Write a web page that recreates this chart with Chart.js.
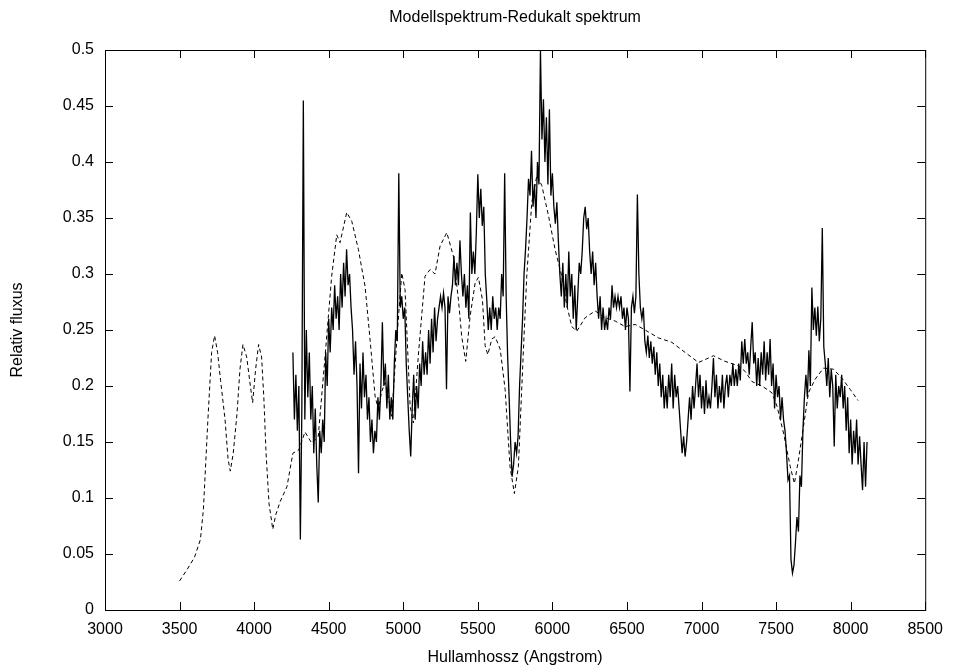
<!DOCTYPE html>
<html>
<head>
<meta charset="utf-8">
<title>Modellspektrum-Redukalt spektrum</title>
<script src="https://cdn.jsdelivr.net/npm/chart.js@4.4.1/dist/chart.umd.min.js"></script>
<style>
  html, body { margin: 0; padding: 0; background: #fff; }
</style>
</head>
<body>
<canvas id="myChart" width="953" height="667"></canvas>
<script>
// reduced (observed) spectrum, sampled every 10 A from 4260 A
const specStart = 4260;
const specStep = 10;
const specFlux = [
  0.23, 0.17, 0.21, 0.16, 0.20, 0.063, 0.18, 0.455, 0.17, 0.25,
  0.19, 0.23, 0.17, 0.20, 0.14, 0.18, 0.13, 0.096, 0.16, 0.14,
  0.17, 0.15, 0.23, 0.20, 0.26, 0.23, 0.27, 0.25, 0.29, 0.26,
  0.28, 0.25, 0.30, 0.27, 0.31, 0.28, 0.322, 0.29, 0.30, 0.27,
  0.25, 0.21, 0.24, 0.20, 0.122, 0.22, 0.18, 0.23, 0.19, 0.21,
  0.17, 0.19, 0.15, 0.17, 0.14, 0.16, 0.15, 0.19, 0.17, 0.20,
  0.257, 0.20, 0.22, 0.18, 0.21, 0.17, 0.19, 0.17, 0.22, 0.25,
  0.24, 0.39, 0.27, 0.28, 0.26, 0.27, 0.22, 0.19, 0.16, 0.137,
  0.18, 0.21, 0.17, 0.20, 0.18, 0.22, 0.20, 0.24, 0.21, 0.23,
  0.21, 0.25, 0.22, 0.26, 0.23, 0.27, 0.24, 0.26, 0.27, 0.28,
  0.27, 0.283, 0.27, 0.197, 0.28, 0.265, 0.28, 0.29, 0.316, 0.29,
  0.31, 0.29, 0.33, 0.30, 0.28, 0.30, 0.27, 0.29, 0.26, 0.355,
  0.30, 0.32, 0.30, 0.337, 0.389, 0.35, 0.376, 0.343, 0.36, 0.30,
  0.277, 0.25, 0.27, 0.25, 0.28, 0.26, 0.27, 0.25, 0.27, 0.26,
  0.30, 0.28, 0.39, 0.28, 0.226, 0.19, 0.15, 0.119, 0.13, 0.15,
  0.14, 0.155, 0.20, 0.23, 0.26, 0.30, 0.322, 0.35, 0.385, 0.37,
  0.41, 0.36, 0.38, 0.35, 0.40, 0.38, 0.50, 0.42, 0.456, 0.40,
  0.44, 0.38, 0.447, 0.37, 0.39, 0.36, 0.345, 0.364, 0.33, 0.30,
  0.28, 0.31, 0.27, 0.30, 0.27, 0.32, 0.28, 0.30, 0.26, 0.29,
  0.25, 0.28, 0.31, 0.30, 0.32, 0.35, 0.36, 0.34, 0.35, 0.32,
  0.30, 0.32, 0.29, 0.31, 0.28, 0.26, 0.28, 0.25, 0.27, 0.25,
  0.26, 0.25, 0.27, 0.26, 0.29, 0.27, 0.28, 0.27, 0.28, 0.27,
  0.28, 0.26, 0.27, 0.25, 0.27, 0.26, 0.195, 0.27, 0.28, 0.265,
  0.28, 0.371, 0.30, 0.27, 0.26, 0.27, 0.24, 0.23, 0.245, 0.225,
  0.24, 0.22, 0.235, 0.21, 0.23, 0.20, 0.22, 0.19, 0.21, 0.18,
  0.20, 0.18, 0.21, 0.19, 0.22, 0.18, 0.21, 0.19, 0.20, 0.18,
  0.16, 0.14, 0.155, 0.137, 0.15, 0.17, 0.19, 0.17, 0.20, 0.18,
  0.20, 0.22, 0.19, 0.21, 0.18, 0.20, 0.175, 0.205, 0.18, 0.19,
  0.18, 0.20, 0.225, 0.19, 0.21, 0.18, 0.20, 0.185, 0.21, 0.18,
  0.20, 0.21, 0.19, 0.21, 0.20, 0.22, 0.20, 0.215, 0.20, 0.22,
  0.205, 0.24, 0.22, 0.242, 0.22, 0.23, 0.21, 0.235, 0.257, 0.22,
  0.23, 0.20, 0.225, 0.20, 0.23, 0.21, 0.24, 0.205, 0.23, 0.21,
  0.242, 0.20, 0.22, 0.18, 0.21, 0.19, 0.20, 0.17, 0.19, 0.17,
  0.16, 0.14, 0.116, 0.12, 0.045, 0.033, 0.04, 0.06, 0.083, 0.07,
  0.12, 0.11, 0.16, 0.19, 0.21, 0.19, 0.232, 0.20, 0.288, 0.25,
  0.27, 0.245, 0.271, 0.24, 0.26, 0.341, 0.235, 0.22, 0.20, 0.225,
  0.19, 0.215, 0.20, 0.146, 0.21, 0.18, 0.20, 0.19, 0.21, 0.18,
  0.20, 0.16, 0.19, 0.14, 0.17, 0.13, 0.16, 0.14, 0.17, 0.13,
  0.155, 0.13, 0.107, 0.15, 0.11, 0.15
];

// model spectrum (dashed)
const modelWave = [
  3500, 3550, 3600, 3640, 3660, 3690, 3715, 3735, 3755, 3775,
  3805, 3825, 3840, 3860, 3885, 3905, 3925, 3950, 3970, 3990,
  4010, 4030, 4050, 4065, 4080, 4100, 4125, 4145, 4175, 4220,
  4260, 4300, 4341, 4386, 4430, 4476, 4520, 4554, 4576, 4621,
  4655, 4699, 4744, 4777, 4811, 4833, 4855, 4878, 4900, 4923,
  4957, 4990, 5012, 5046, 5068, 5101, 5146, 5180, 5213, 5247,
  5292, 5336, 5370, 5392, 5419, 5448, 5482, 5504, 5531, 5549,
  5567, 5594, 5616, 5650, 5683, 5716, 5745, 5772, 5806, 5828,
  5862, 5896, 5929, 5974, 6018, 6063, 6097, 6130, 6164, 6220,
  6287, 6354, 6421, 6488, 6555, 6622, 6711, 6801, 6890, 6980,
  7047, 7080, 7158, 7248, 7293, 7338, 7405, 7472, 7506, 7550,
  7595, 7623, 7650, 7684, 7717, 7762, 7818, 7885, 7941, 7997,
  8050
];
const modelFlux = [
  0.026, 0.036, 0.047, 0.063, 0.09, 0.17, 0.23, 0.245, 0.23, 0.205,
  0.17, 0.135, 0.124, 0.14, 0.175, 0.215, 0.237, 0.226, 0.205, 0.185,
  0.215, 0.237, 0.226, 0.19, 0.14, 0.095, 0.072, 0.085, 0.097, 0.11,
  0.14, 0.143, 0.159, 0.149, 0.155, 0.227, 0.298, 0.335, 0.328, 0.355,
  0.347, 0.322, 0.289, 0.242, 0.191, 0.179, 0.195, 0.203, 0.19, 0.173,
  0.242, 0.301, 0.286, 0.182, 0.167, 0.227, 0.298, 0.304, 0.30, 0.325,
  0.337, 0.316, 0.277, 0.244, 0.222, 0.262, 0.292, 0.297, 0.277, 0.236,
  0.228, 0.242, 0.244, 0.233, 0.197, 0.128, 0.104, 0.128, 0.233, 0.298,
  0.364, 0.388, 0.379, 0.352, 0.322, 0.298, 0.272, 0.253, 0.249, 0.261,
  0.267, 0.261, 0.258, 0.253, 0.255, 0.25, 0.243, 0.239, 0.23, 0.221,
  0.225, 0.227, 0.222, 0.218, 0.213, 0.204, 0.2, 0.194, 0.182, 0.158,
  0.128, 0.113, 0.134, 0.164, 0.194, 0.206, 0.216, 0.215, 0.207, 0.197,
  0.187
];

const xTicks = [3000, 3500, 4000, 4500, 5000, 5500, 6000, 6500, 7000, 7500, 8000, 8500];
const yTicks = [0, 0.05, 0.1, 0.15, 0.2, 0.25, 0.3, 0.35, 0.4, 0.45, 0.5];

const font = "'Liberation Sans', Arial, Helvetica, sans-serif";

const specData = specFlux.map((v, i) => ({ x: specStart + i * specStep, y: v }));
const modelData = modelWave.map((w, i) => ({ x: w, y: modelFlux[i] }));

// gnuplot style frame: full border with inward ticks on all sides
const framePlugin = {
  id: 'frame',
  afterDatasetsDraw(chart) {
    const { ctx, chartArea: a, scales } = chart;
    const len = 8;
    ctx.save();
    ctx.strokeStyle = '#000';
    ctx.lineWidth = 1;
    ctx.beginPath();
    xTicks.forEach((t) => {
      const px = Math.round(scales.x.getPixelForValue(t)) + 0.5;
      ctx.moveTo(px, a.bottom);
      ctx.lineTo(px, a.bottom - len);
      ctx.moveTo(px, a.top);
      ctx.lineTo(px, a.top + len);
    });
    yTicks.forEach((t) => {
      const py = Math.round(scales.y.getPixelForValue(t)) + 0.5;
      ctx.moveTo(a.left, py);
      ctx.lineTo(a.left + len, py);
      ctx.moveTo(a.right, py);
      ctx.lineTo(a.right - len, py);
    });
    ctx.stroke();
    ctx.strokeRect(a.left + 0.5, a.top + 0.5, a.right - a.left, a.bottom - a.top);
    ctx.restore();
  }
};

const config = {
  type: 'line',
  data: {
    datasets: [
      {
        label: 'Redukalt spektrum',
        data: specData,
        borderColor: '#000',
        borderWidth: 1.3,
        pointRadius: 0,
        tension: 0
      },
      {
        label: 'Modellspektrum',
        data: modelData,
        borderColor: '#000',
        borderWidth: 1,
        borderDash: [4, 3],
        pointRadius: 0,
        tension: 0
      }
    ]
  },
  options: {
    responsive: false,
    animation: false,
    layout: { padding: { left: 0, right: 26, top: 0, bottom: 0 } },
    plugins: {
      legend: { display: false },
      tooltip: { enabled: false },
      title: {
        display: true,
        fullSize: false,
        text: 'Modellspektrum-Redukalt spektrum',
        color: '#000',
        font: { family: font, size: 16, weight: 'normal', lineHeight: 1.2 },
        padding: { top: 8, bottom: 22.8 }
      }
    },
    scales: {
      x: {
        type: 'linear',
        min: 3000,
        max: 8500,
        afterBuildTicks: (s) => { s.ticks = xTicks.map((v) => ({ value: v })); },
        afterFit: (s) => { s.height = 57; },
        grid: { display: false, drawTicks: false },
        border: { display: false },
        ticks: {
          color: '#000',
          padding: 10,
          maxRotation: 0,
          font: { family: font, size: 16 },
          callback: (v) => String(v)
        },
        title: {
          display: true,
          text: 'Hullamhossz (Angstrom)',
          color: '#000',
          font: { family: font, size: 16 },
          padding: { top: 2, bottom: 0 }
        }
      },
      y: {
        type: 'linear',
        min: 0,
        max: 0.5,
        afterBuildTicks: (s) => { s.ticks = yTicks.map((v) => ({ value: v })); },
        afterFit: (s) => { s.width = 105; },
        grid: { display: false, drawTicks: false },
        border: { display: false },
        ticks: {
          color: '#000',
          padding: 11,
          font: { family: font, size: 16 },
          callback: (v) => String(Math.round(v * 100) / 100)
        },
        title: {
          display: true,
          text: 'Relativ fluxus',
          color: '#000',
          font: { family: font, size: 16 },
          padding: { top: 8, bottom: 0 }
        }
      }
    }
  },
  plugins: [framePlugin]
};

const ctx = document.getElementById('myChart').getContext('2d');
const myChart = new Chart(ctx, config);
</script>
</body>
</html>
